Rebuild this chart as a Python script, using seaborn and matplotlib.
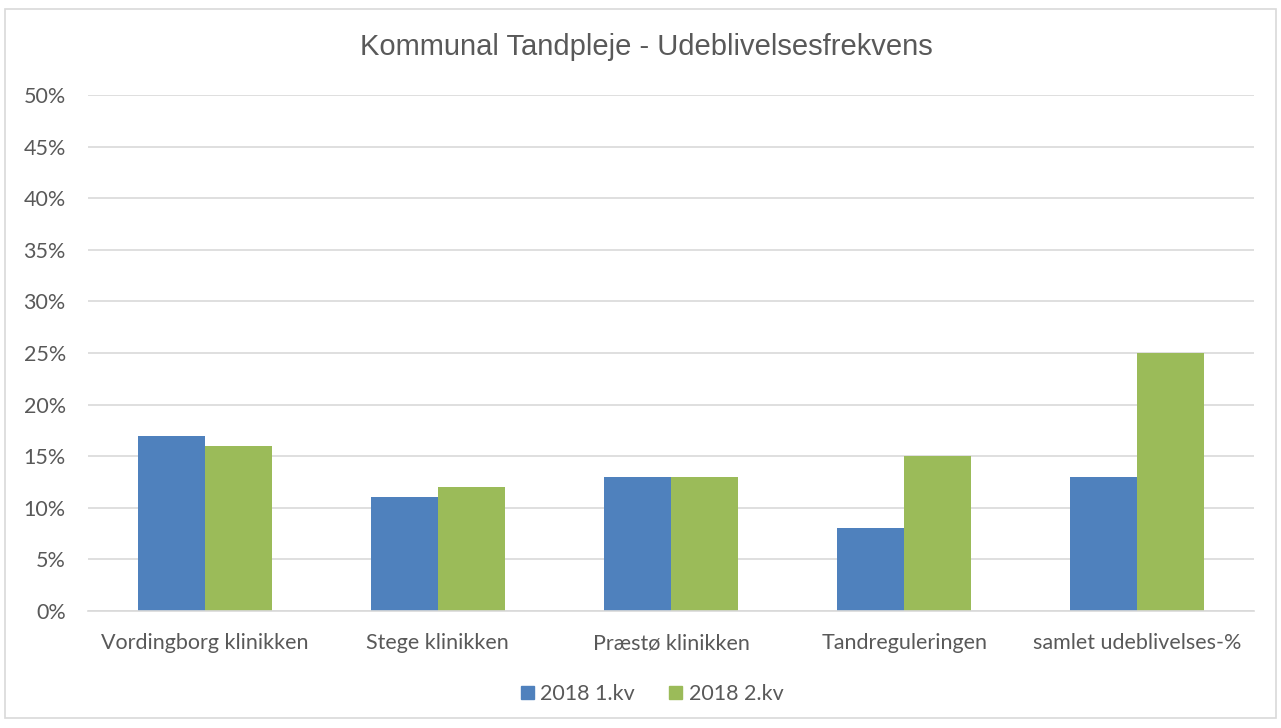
import matplotlib
matplotlib.use("Agg")
import matplotlib.pyplot as plt
import seaborn as sns
import pandas as pd
from matplotlib.patches import Rectangle
from matplotlib.ticker import FuncFormatter, MultipleLocator

categories = ["Vordingborg klinikken", "Stege klinikken", "Præstø klinikken",
              "Tandreguleringen", "samlet udeblivelses-%"]
series_names = ["2018 1.kv", "2018 2.kv"]
q1_values = [0.17, 0.11, 0.13, 0.08, 0.13]
q2_values = [0.16, 0.12, 0.13, 0.15, 0.25]
title = "Kommunal Tandpleje - Udeblivelsesfrekvens"

df = pd.DataFrame({
    "category": categories * 2,
    "series": [series_names[0]] * len(categories) + [series_names[1]] * len(categories),
    "value": q1_values + q2_values,
})

sns.set_theme(style="white")
text_color = "#595959"
tick_font = ["Lato", "DejaVu Sans"]

fig = plt.figure(figsize=(12.81, 7.28), dpi=100)
ax = fig.add_axes([88 / 1281, 1 - 611 / 728, 1166 / 1281, (611 - 95) / 728])

sns.barplot(data=df, x="category", y="value", hue="series",
            palette=["#4F81BD", "#9BBB59"], width=0.575, ax=ax,
            saturation=1, legend=False, edgecolor="none", linewidth=0)

ax.set_ylim(0, 0.5)
ax.set_xlim(-0.5, len(categories) - 0.5)
ax.yaxis.set_major_locator(MultipleLocator(0.05))
ax.yaxis.set_major_formatter(FuncFormatter(lambda v, p: f"{v * 100:.0f}%"))
ax.grid(axis="y", color="#D9D9D9", linewidth=1.2)
ax.set_axisbelow(True)
for s in ["top", "right", "left"]:
    ax.spines[s].set_visible(False)
ax.spines["bottom"].set_color("#D9D9D9")
ax.spines["bottom"].set_linewidth(1.2)
ax.set_xlabel("")
ax.set_ylabel("")
ax.tick_params(axis="both", length=0, colors=text_color, labelsize=15.5)
ax.tick_params(axis="x", pad=16)
ax.tick_params(axis="y", pad=16)
for lbl in ax.get_xticklabels() + ax.get_yticklabels():
    lbl.set_family(tick_font)

fig.text(646 / 1281, 1 - 47 / 728, title, ha="center", va="center",
         fontsize=21, color=text_color, family=["Liberation Sans", "DejaVu Sans"])

handles = [Rectangle((0, 0), 1, 1, color=c) for c in ["#4F81BD", "#9BBB59"]]
fig.legend(handles, series_names, loc="center", bbox_to_anchor=(652 / 1281, 1 - 694 / 728),
           ncol=2, frameon=False, handlelength=0.6, handleheight=0.6, handletextpad=0.3,
           columnspacing=1.6, prop={"family": tick_font, "size": 15.5}, labelcolor=text_color)

border = Rectangle((5 / 1281, 1 - 718 / 728), 1271 / 1281, (718 - 9) / 728,
                   transform=fig.transFigure, fill=False, edgecolor="#D9D9D9", linewidth=1.2)
fig.patches.append(border)

fig.savefig("out.png", dpi=100, facecolor="white")
